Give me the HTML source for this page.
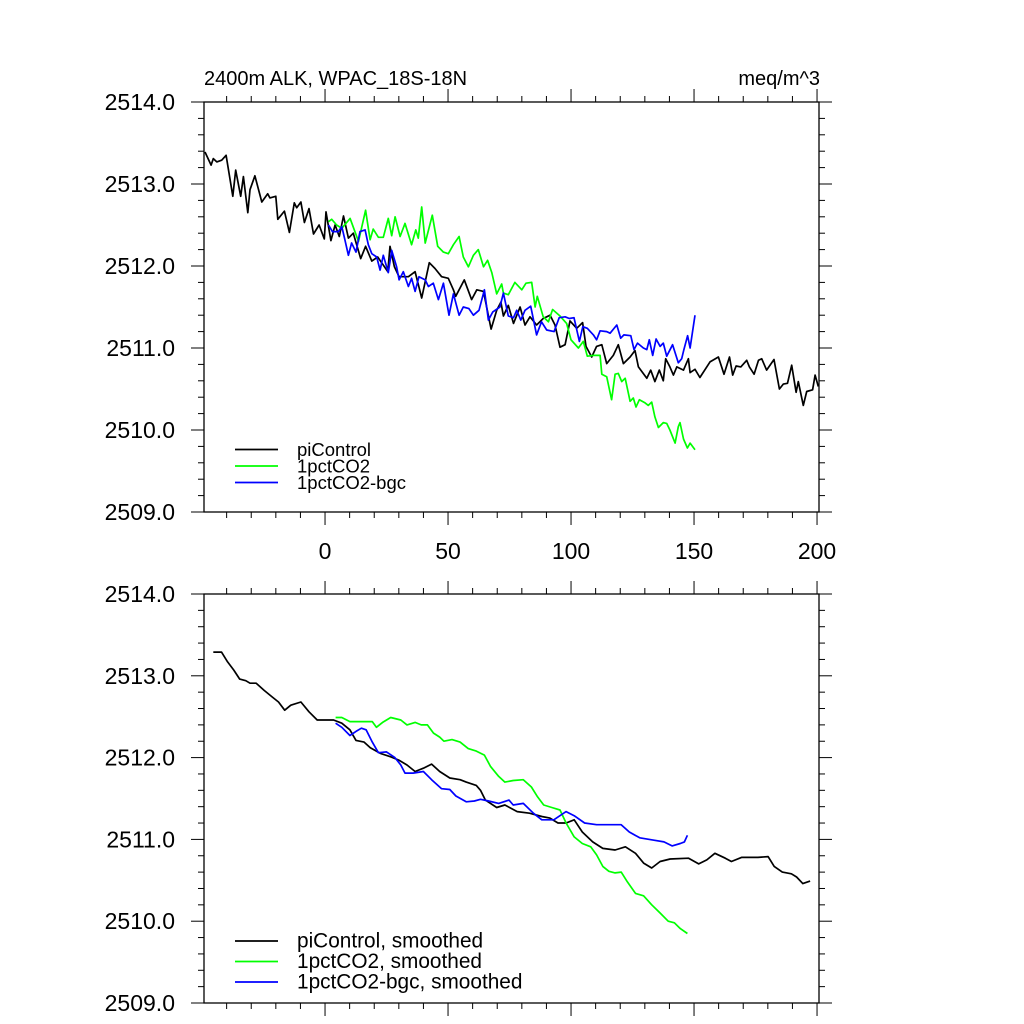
<!DOCTYPE html>
<html><head><meta charset="utf-8"><style>
html,body{margin:0;padding:0;background:#fff;}
svg{display:block;font-family:"Liberation Sans",sans-serif;}
</style></head><body>
<svg id="chart" width="1024" height="1024" viewBox="0 0 1024 1024" xmlns="http://www.w3.org/2000/svg">
<text x="204" y="85" font-size="20">2400m ALK, WPAC_18S-18N</text>
<text x="820" y="85" font-size="20" text-anchor="end">meq/m^3</text>
</svg>
<script>
// ---- data ----
const piYears = [-48.8,-46.3,-45.4,-44,-42,-40.2,-37.5,-36.3,-34.3,-33.2,-31.4,-30.5,-28.5,-25.7,-23.3,-22.4,-20,-19.2,-16.5,-14.5,-12.5,-11.5,-9.8,-8.4,-6.5,-4.7,-2.4,-0.3,0.4,2.4,4.1,5.8,7.5,9.5,11.5,14.5,16.5,19,21.4,25.5,26.4,28.2,30.1,33.9,36.6,39.3,42.4,44.7,47.4,50.1,52.2,53.1,56.6,59.6,61.7,64.4,67.5,69.8,71.5,72.5,74.5,76.6,79.3,81.3,83.3,86,88.7,91.5,93.5,95.5,97.6,99.6,102.3,104.7,106.1,108.4,110.4,112.5,114.5,117.2,119.2,121.3,124,126,127.4,130.8,132.4,134.1,135.9,137.5,138.5,140.2,141.6,143,145.7,147.7,148.4,150.4,152.4,156.5,159.9,162.2,164.4,165.7,167.1,169,171.4,172.5,174.4,176.2,177.5,179.5,182.5,184.7,186.3,188,189.7,191.5,192.4,194.4,195.8,198.2,199.2,200.5];
const piValues = [2513.39,2513.23,2513.31,2513.27,2513.29,2513.35,2512.85,2513.17,2512.85,2513.09,2512.65,2512.93,2513.10,2512.78,2512.88,2512.83,2512.85,2512.57,2512.67,2512.41,2512.77,2512.71,2512.78,2512.53,2512.70,2512.39,2512.50,2512.33,2512.66,2512.31,2512.50,2512.36,2512.61,2512.34,2512.40,2512.09,2512.24,2512.06,2512.11,2511.93,2512.24,2511.99,2511.87,2511.87,2511.93,2511.61,2512.04,2511.97,2511.87,2511.85,2511.71,2511.63,2511.83,2511.59,2511.71,2511.69,2511.23,2511.46,2511.56,2511.39,2511.52,2511.30,2511.50,2511.28,2511.38,2511.28,2511.36,2511.40,2511.28,2511.01,2511.04,2511.33,2511.24,2511.31,2511.02,2510.89,2511.02,2511.04,2510.81,2510.91,2511.04,2510.81,2510.89,2510.97,2510.77,2510.63,2510.73,2510.59,2510.73,2510.60,2510.87,2510.77,2510.67,2510.77,2510.73,2510.87,2510.70,2510.74,2510.64,2510.83,2510.89,2510.68,2510.89,2510.67,2510.78,2510.77,2510.85,2510.77,2510.68,2510.85,2510.87,2510.73,2510.86,2510.50,2510.56,2510.57,2510.79,2510.46,2510.59,2510.30,2510.47,2510.49,2510.67,2510.53];
const co2Years = [1.4,2.7,4.7,6.8,10.2,13.6,16.5,18.3,19.6,21.7,23.7,25.7,27.1,28.5,30.5,32.5,35.2,36.9,37.9,39.3,40.7,43.6,45.8,48.1,50.1,52.2,54.5,56.2,58.3,60.3,62.3,64.4,66.1,67.8,69.8,71.8,72.5,74.5,77.2,80,81.7,84,85.4,86.3,88.7,90.8,92.5,95.5,98.2,100,103,105,106.6,109.1,111.8,112.5,114.5,116.5,117.9,119.2,120.6,122,124,125.3,126.4,127.8,130.1,131.4,132.8,134.1,135.5,137.5,138.9,140.2,142.3,143.6,144.3,145.7,147.3,148.4,150.4];
const co2Values = [2512.54,2512.57,2512.50,2512.46,2512.58,2512.30,2512.68,2512.32,2512.45,2512.35,2512.35,2512.58,2512.37,2512.60,2512.36,2512.52,2512.26,2512.44,2512.34,2512.72,2512.28,2512.62,2512.24,2512.17,2512.15,2512.26,2512.36,2512.11,2511.99,2512.13,2512.20,2511.99,2512.07,2511.92,2511.66,2511.78,2511.67,2511.65,2511.80,2511.71,2511.79,2511.80,2511.50,2511.63,2511.38,2511.32,2511.47,2511.39,2511.30,2511.10,2511.00,2511.08,2510.90,2510.91,2510.91,2510.68,2510.65,2510.37,2510.68,2510.69,2510.59,2510.63,2510.35,2510.39,2510.28,2510.37,2510.33,2510.30,2510.34,2510.16,2510.03,2510.09,2510.08,2510.00,2509.84,2510.04,2510.09,2509.89,2509.78,2509.84,2509.76];
const bgcYears = [1.4,3,5.4,6.8,7.9,9.5,10.8,12.6,14.2,16.3,17.6,19,21,22.4,23.7,25.7,27.1,29.1,30.1,31.8,33.9,35.2,36.6,38.2,40.7,42,44,46.1,48.1,50.4,52.2,54.5,56.2,58.5,60.3,62.6,64.8,66.4,68.2,71.1,72.5,74.5,76.6,77.9,79.6,81.3,83.6,86,88,90.1,93.1,95.2,97.6,99.3,101.2,103.4,104.8,106.6,109.1,110.4,111.8,114.5,115.9,118.6,120.2,121.5,124.3,125.6,127,129.4,130.8,131.8,133.2,134.6,136.2,137.5,138.9,141.3,143.6,145,145.9,147.4,148.4,150.4];
const bgcValues = [2512.50,2512.42,2512.42,2512.48,2512.34,2512.13,2512.28,2512.17,2512.42,2512.44,2512.26,2512.15,2512.11,2511.95,2512.13,2511.92,2512.19,2511.99,2511.83,2511.93,2511.75,2511.85,2511.69,2511.87,2511.83,2511.75,2511.79,2511.59,2511.79,2511.40,2511.66,2511.40,2511.50,2511.48,2511.40,2511.46,2511.71,2511.34,2511.44,2511.50,2511.67,2511.39,2511.37,2511.46,2511.34,2511.46,2511.51,2511.16,2511.32,2511.22,2511.20,2511.37,2511.38,2511.36,2511.37,2511.08,2511.26,2511.24,2511.16,2511.10,2511.21,2511.20,2511.18,2511.28,2511.12,2511.16,2511.15,2510.98,2511.06,2511.00,2510.98,2511.10,2510.91,2511.11,2511.02,2511.06,2510.90,2511.04,2510.82,2510.87,2510.98,2511.15,2511.00,2511.40];
const piSmYears = [-45.4,-42.1,-39.6,-37.1,-34.7,-32.2,-30.5,-28,-24.7,-21.4,-18.9,-16.4,-13.9,-9.8,-6.5,-3.2,3.5,6.8,10.1,12.6,15.9,18.4,22.6,26.7,30,33.3,36.6,40,43.3,46.6,50.7,54.9,57.4,61.5,63.2,65.2,69.8,73.1,78.1,83.1,88.1,91.4,94.7,98,101.3,104.6,108.8,112.9,117.9,122.1,126.2,129.5,132.8,136.2,140.3,147.8,151.9,155.2,158.5,162.7,165.2,169.3,176,180.1,182.6,185.9,189.6,191.7,194.2,197.2];
const piSmValues = [2513.29,2513.29,2513.17,2513.07,2512.96,2512.94,2512.91,2512.91,2512.82,2512.74,2512.68,2512.58,2512.64,2512.68,2512.56,2512.46,2512.46,2512.42,2512.34,2512.21,2512.19,2512.12,2512.05,2512.01,2511.97,2511.91,2511.83,2511.87,2511.92,2511.83,2511.75,2511.73,2511.70,2511.66,2511.60,2511.48,2511.39,2511.42,2511.34,2511.32,2511.28,2511.26,2511.20,2511.20,2511.24,2511.09,2510.97,2510.89,2510.87,2510.91,2510.83,2510.71,2510.65,2510.73,2510.76,2510.77,2510.70,2510.75,2510.83,2510.77,2510.73,2510.78,2510.78,2510.79,2510.67,2510.60,2510.58,2510.54,2510.46,2510.49];
const co2SmYears = [4.3,6.8,10.1,13.4,16.7,19.2,20.9,23.4,26.7,30.8,33.3,36.6,39.1,41.6,44.1,46.6,48.3,51.6,54.9,58.2,61.5,64.8,67.3,70.6,73.1,76.5,80.6,83.9,86.4,88.9,92.2,95.5,98,101.3,104.6,108,110.4,112.9,115.4,117.9,120.4,122.9,126.2,129.5,132.8,136.2,139.5,142,144.4,147.3];
const co2SmValues = [2512.49,2512.49,2512.44,2512.44,2512.44,2512.44,2512.37,2512.43,2512.49,2512.46,2512.40,2512.43,2512.40,2512.40,2512.30,2512.25,2512.20,2512.22,2512.19,2512.11,2512.08,2512.03,2511.89,2511.77,2511.70,2511.72,2511.73,2511.64,2511.52,2511.42,2511.39,2511.36,2511.20,2511.03,2510.95,2510.91,2510.81,2510.67,2510.61,2510.59,2510.60,2510.48,2510.34,2510.31,2510.20,2510.10,2510.00,2509.98,2509.91,2509.85];
const bgcSmYears = [4.3,6.8,10.1,12.6,14.8,16.7,19.2,21.7,25,28.4,30.8,32.5,35.8,40,43.3,47.4,50.7,53.2,57.4,60.7,63.2,66.5,70.6,74.8,76.5,80.6,84.7,88.1,93,98,101.3,105.5,110.4,115.4,120.4,123.7,127.9,133.7,137.8,141.1,144.4,146.1,147.3];
const bgcSmValues = [2512.42,2512.37,2512.27,2512.32,2512.36,2512.34,2512.19,2512.06,2512.07,2512.00,2511.91,2511.81,2511.81,2511.83,2511.73,2511.62,2511.61,2511.53,2511.46,2511.47,2511.49,2511.47,2511.44,2511.48,2511.42,2511.44,2511.32,2511.24,2511.24,2511.34,2511.29,2511.20,2511.18,2511.18,2511.18,2511.09,2511.02,2510.99,2510.97,2510.92,2510.95,2510.97,2511.05];
const yTicks = [2509, 2510, 2511, 2512, 2513, 2514];
const yTickLabels = ["2509.0","2510.0","2511.0","2512.0","2513.0","2514.0"];
const xTicks = [0, 50, 100, 150, 200];
const xTickLabels = ["0","50","100","150","200"];
const topLegend = ["piControl","1pctCO2","1pctCO2-bgc"];
const bottomLegend = ["piControl, smoothed","1pctCO2, smoothed","1pctCO2-bgc, smoothed"];
const colors = ["#000000","#00ff00","#0000ff"];

// ---- drawing ----
const NS = "http://www.w3.org/2000/svg";
const svg = document.getElementById("chart");
const X0 = 204, X1 = 819, XMIN = -49.2, XMAX = 200.8;
function xs(v){ return X0 + (v - XMIN) / (XMAX - XMIN) * (X1 - X0); }
function mk(tag, attrs){ const e = document.createElementNS(NS, tag); for (const k in attrs) e.setAttribute(k, attrs[k]); return e; }

function panel(pname, top, bottom, series, legendNames, legY, legStep, legSize, showXLabels){
  const g = mk("g", {});
  
  
  svg.appendChild(g);
  const ys = v => bottom - (v - 2509) / 5 * (bottom - top);
  const frame = mk("rect", {x: X0, y: top, width: X1 - X0, height: bottom - top, fill: "none", stroke: "#000", "stroke-width": 1.3});
  
  
  g.appendChild(frame);
  for (let t = -40; t <= 200; t += 10) {
    const major = (t % 50 === 0);
    const L = major ? 13 : 6;
    const x = xs(t);
    const tb = mk("line", {x1: x, x2: x, y1: bottom, y2: bottom + L, stroke: "#000", "stroke-width": 1});
    
    
    g.appendChild(tb);
    const tt = mk("line", {x1: x, x2: x, y1: top, y2: top - L, stroke: "#000", "stroke-width": 1});
    
    
    g.appendChild(tt);
  }
  if (showXLabels) {
    xTicks.forEach((t, i) => {
      const lab = mk("text", {x: xs(t), y: bottom + 47, "font-size": 23, "text-anchor": "middle"});
      lab.textContent = xTickLabels[i];
      
      
      g.appendChild(lab);
    });
  }
  for (let k = 0; k <= 25; k++) {
    const v = 2509 + k * 0.2;
    const major = (k % 5 === 0);
    const L = major ? 13 : 6;
    const y = ys(v);
    const tl = mk("line", {x1: X0, x2: X0 - L, y1: y, y2: y, stroke: "#000", "stroke-width": 1});
    
    
    g.appendChild(tl);
    const tr = mk("line", {x1: X1, x2: X1 + L, y1: y, y2: y, stroke: "#000", "stroke-width": 1});
    
    
    g.appendChild(tr);
  }
  yTicks.forEach((v, i) => {
    const lab = mk("text", {x: 175, y: ys(v) + 8, "font-size": 23, "text-anchor": "end"});
    lab.textContent = yTickLabels[i];
    
    
    g.appendChild(lab);
  });
  series.forEach((s, i) => {
    const d = s.xs.map((yr, j) => (j ? "L" : "M") + xs(yr).toFixed(1) + "," + ys(s.vs[j]).toFixed(1)).join(" ");
    const p = mk("path", {d: d, fill: "none", stroke: colors[i], "stroke-width": 1.7, "stroke-linejoin": "round"});
    
    
    g.appendChild(p);
  });
  legendNames.forEach((n, i) => {
    const y = legY + i * legStep;
    const ln = mk("line", {x1: 235, x2: 278, y1: y, y2: y, stroke: colors[i], "stroke-width": 1.7});
    
    
    g.appendChild(ln);
    const tx = mk("text", {x: 297, y: y + 6.5, "font-size": legSize});
    tx.textContent = n;
    
    
    g.appendChild(tx);
  });
}

panel("top-panel", 102, 512, [
  {name: "picontrol-line", xs: piYears, vs: piValues},
  {name: "1pctco2-line", xs: co2Years, vs: co2Values},
  {name: "1pctco2-bgc-line", xs: bgcYears, vs: bgcValues}
], topLegend, 449.5, 16.5, 18.5, true);

panel("bottom-panel", 594, 1003, [
  {name: "picontrol-smoothed-line", xs: piSmYears, vs: piSmValues},
  {name: "1pctco2-smoothed-line", xs: co2SmYears, vs: co2SmValues},
  {name: "1pctco2-bgc-smoothed-line", xs: bgcSmYears, vs: bgcSmValues}
], bottomLegend, 941, 20.5, 20.8, false);
</script>
</body></html>
